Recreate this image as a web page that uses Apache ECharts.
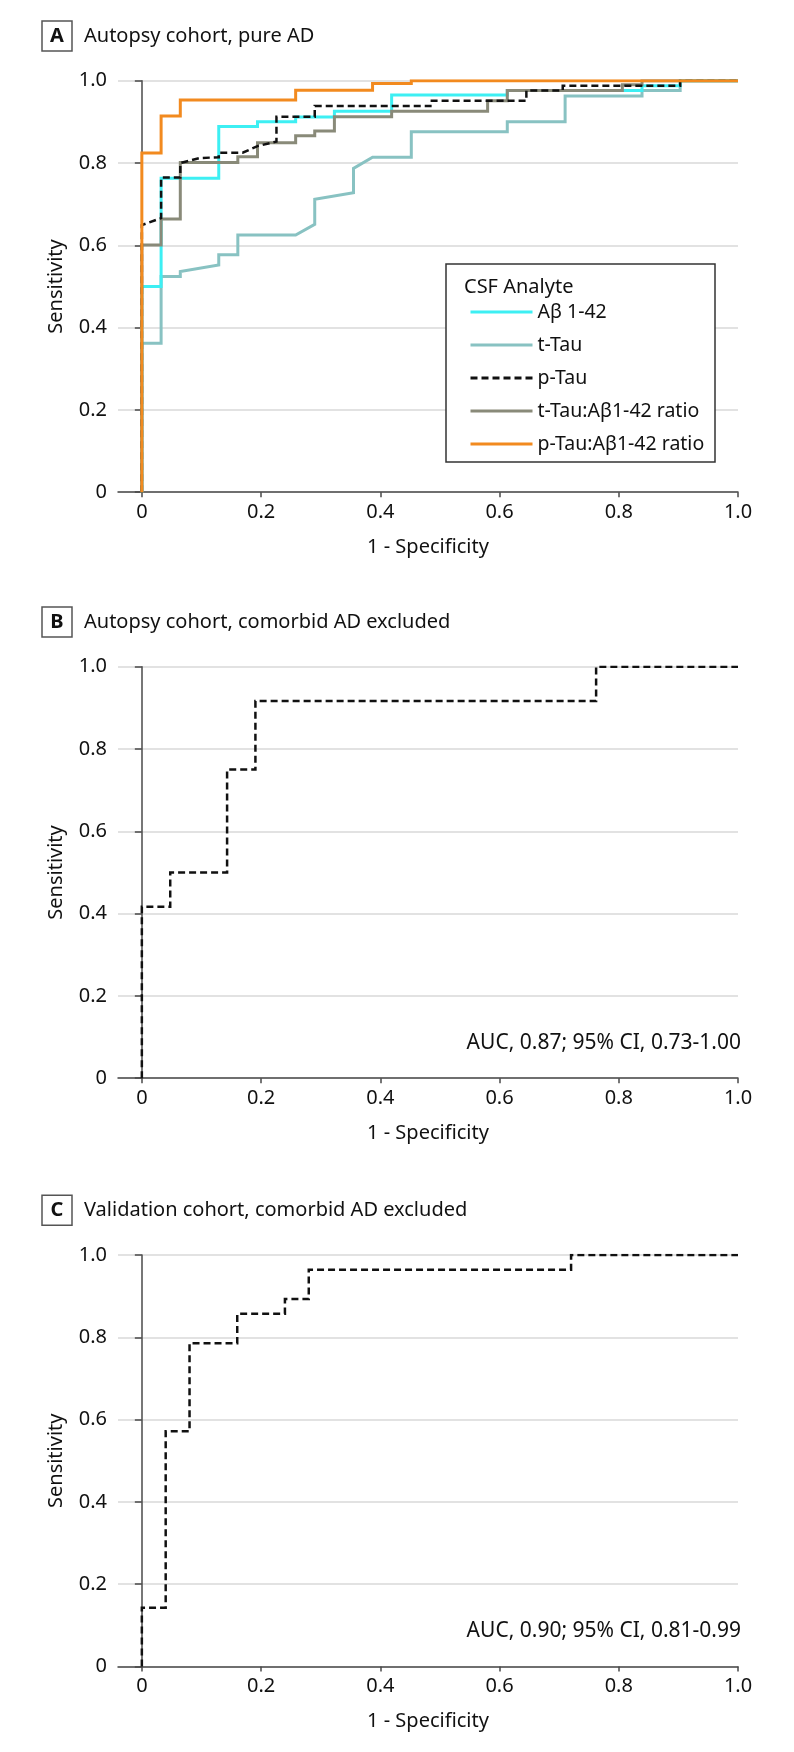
<!DOCTYPE html>
<html>
<head>
<meta charset="utf-8">
<script src="https://cdn.jsdelivr.net/npm/echarts@6/dist/echarts.min.js"></script>
<style>html,body{margin:0;padding:0;background:#fff}#c{width:794px;height:1752px}</style>
</head>
<body>
<div id="c"></div>
<script>
// ---------- data ----------
const panelTitles = ['Autopsy cohort, pure AD', 'Autopsy cohort, comorbid AD excluded', 'Validation cohort, comorbid AD excluded'];
const panelLetters = ['A', 'B', 'C'];
const xTickValues = [0, 0.2, 0.4, 0.6, 0.8, 1.0];
const seriesNames = ['Aβ 1-42', 't-Tau', 'p-Tau', 't-Tau:Aβ1-42 ratio', 'p-Tau:Aβ1-42 ratio'];

// Panel A (1 - specificity, sensitivity)
const abetaX = [0, 0, 0.0323, 0.0323, 0.129, 0.129, 0.194, 0.194, 0.258, 0.258, 0.323, 0.323, 0.419, 0.419, 0.613, 0.613, 0.839, 0.839, 0.903, 0.903, 1];
const abetaY = [0, 0.5, 0.5, 0.763, 0.763, 0.889, 0.889, 0.900, 0.900, 0.912, 0.912, 0.926, 0.926, 0.965, 0.965, 0.976, 0.976, 0.988, 0.988, 1, 1];

const tTauX = [0, 0, 0.0323, 0.0323, 0.0645, 0.0645, 0.129, 0.129, 0.161, 0.161, 0.258, 0.29, 0.29, 0.355, 0.355, 0.387, 0.452, 0.452, 0.613, 0.613, 0.71, 0.71, 0.839, 0.839, 0.903, 0.903, 1];
const tTauY = [0, 0.362, 0.362, 0.524, 0.524, 0.536, 0.552, 0.577, 0.577, 0.625, 0.625, 0.651, 0.712, 0.728, 0.787, 0.814, 0.814, 0.876, 0.876, 0.900, 0.900, 0.963, 0.963, 0.976, 0.976, 1, 1];

const pTauX = [0, 0, 0.0323, 0.0323, 0.0645, 0.0645, 0.097, 0.129, 0.129, 0.169, 0.194, 0.2258, 0.2258, 0.29, 0.29, 0.484, 0.484, 0.645, 0.645, 0.706, 0.706, 0.903, 0.903, 1];
const pTauY = [0, 0.649, 0.666, 0.765, 0.765, 0.800, 0.812, 0.814, 0.825, 0.825, 0.841, 0.852, 0.9125, 0.9125, 0.9385, 0.9385, 0.951, 0.951, 0.976, 0.976, 0.988, 0.988, 1, 1];

const tRatioX = [0, 0, 0.0323, 0.0323, 0.0645, 0.0645, 0.161, 0.161, 0.194, 0.194, 0.258, 0.258, 0.29, 0.29, 0.323, 0.323, 0.419, 0.419, 0.58, 0.58, 0.613, 0.613, 0.806, 0.806, 0.839, 0.839, 1];
const tRatioY = [0, 0.601, 0.601, 0.664, 0.664, 0.801, 0.801, 0.815, 0.815, 0.849, 0.849, 0.866, 0.866, 0.878, 0.878, 0.9125, 0.9125, 0.926, 0.926, 0.951, 0.951, 0.976, 0.976, 0.99, 0.99, 1, 1];

const pRatioX = [0, 0, 0.0323, 0.0323, 0.0645, 0.0645, 0.258, 0.258, 0.387, 0.387, 0.452, 0.452, 1];
const pRatioY = [0, 0.824, 0.824, 0.914, 0.914, 0.953, 0.953, 0.977, 0.977, 0.993, 0.993, 1, 1];

// Panel B (p-Tau)
const bX = [0, 0, 0.0476, 0.0476, 0.143, 0.143, 0.1905, 0.1905, 0.762, 0.762, 1];
const bY = [0, 0.4167, 0.4167, 0.5, 0.5, 0.75, 0.75, 0.9167, 0.9167, 1, 1];
const bAUC = 'AUC, 0.87; 95% CI, 0.73-1.00';

// Panel C (p-Tau)
const cX = [0, 0, 0.04, 0.04, 0.08, 0.08, 0.16, 0.16, 0.24, 0.24, 0.28, 0.28, 0.72, 0.72, 1];
const cY = [0, 0.1429, 0.1429, 0.5714, 0.5714, 0.7857, 0.7857, 0.8571, 0.8571, 0.8929, 0.8929, 0.9643, 0.9643, 1, 1];
const cAUC = 'AUC, 0.90; 95% CI, 0.81-0.99';

// ---------- chart ----------
const FONT = 'Noto Sans';
const FS = 20;
const TXT = '#111111';
const AXIS = '#4a4a4a';
const gridTops = [80.7, 666.7, 1255];
const gridH = 411.5;
const zip = (xs, ys) => xs.map((x, i) => [x, ys[i]]);

const grids = gridTops.map(t => ({ left: 118, right: 56, top: t, height: gridH, containLabel: false }));

const xAxes = gridTops.map((t, i) => ({
  gridIndex: i, type: 'value', min: -0.04, max: 1,
  axisLine: { show: true, onZero: false, lineStyle: { color: AXIS, width: 1.5 } },
  axisTick: { show: true, length: 5, customValues: xTickValues, lineStyle: { color: AXIS, width: 1.5 } },
  axisLabel: { customValues: xTickValues, fontSize: FS, fontFamily: FONT, color: TXT, margin: 10,
    formatter: v => v === 0 ? '0' : v.toFixed(1) },
  splitLine: { show: false },
  name: '1 - Specificity', nameLocation: 'middle', nameGap: 45,
  nameTextStyle: { fontSize: FS, fontFamily: FONT, color: TXT }
}));

const yAxes = gridTops.map((t, i) => ({
  gridIndex: i, type: 'value', min: 0, max: 1, interval: 0.2,
  axisLine: { show: true, lineStyle: { color: AXIS, width: 1.5 } },
  axisTick: { show: true, length: 7, lineStyle: { color: AXIS, width: 1.5 } },
  axisLabel: { fontSize: FS, fontFamily: FONT, color: TXT, margin: 11,
    formatter: v => v === 0 ? '0' : v.toFixed(1) },
  splitLine: { show: true, lineStyle: { color: '#d8d8d8', width: 1.5 } },
  name: 'Sensitivity', nameLocation: 'middle', nameGap: 52, nameRotate: 90,
  nameTextStyle: { fontSize: FS, fontFamily: FONT, color: TXT }
}));

const colors = { abeta: '#3DEFF3', tTau: '#88C2C2', pTau: '#111111', tRatio: '#898A79', pRatio: '#F28A1F' };
function lineSeries(name, data, color, idx, dashed, z) {
  return {
    type: 'line', name, data, xAxisIndex: idx, yAxisIndex: idx,
    symbol: 'none', showSymbol: false, animation: false, z,
    lineStyle: { color, width: dashed ? 2.5 : 3, type: dashed ? [7, 4] : 'solid', cap: 'butt', join: 'miter' },
    itemStyle: { color }
  };
}

const series = [
  lineSeries(seriesNames[1], zip(tTauX, tTauY), colors.tTau, 0, false, 2),
  lineSeries(seriesNames[0], zip(abetaX, abetaY), colors.abeta, 0, false, 3),
  lineSeries(seriesNames[3], zip(tRatioX, tRatioY), colors.tRatio, 0, false, 4),
  lineSeries(seriesNames[2], zip(pTauX, pTauY), colors.pTau, 0, true, 5),
  lineSeries(seriesNames[4], zip(pRatioX, pRatioY), colors.pRatio, 0, false, 6),
  lineSeries('p-Tau (B)', zip(bX, bY), colors.pTau, 1, true, 5),
  lineSeries('p-Tau (C)', zip(cX, cY), colors.pTau, 2, true, 5)
];

const graphic = [];
gridTops.forEach((t, i) => {
  const boxTop = t - 59.7;
  graphic.push({ type: 'rect', shape: { x: 42, y: boxTop, width: 30, height: 30 },
    style: { fill: '#fff', stroke: '#555', lineWidth: 1.5 } });
  graphic.push({ type: 'text', style: { x: 57, y: boxTop + 15, text: panelLetters[i], font: 'bold 20px "Noto Sans"', fill: TXT, textAlign: 'center', textVerticalAlign: 'middle' } });
  graphic.push({ type: 'text', style: { x: 84, y: boxTop + 15, text: panelTitles[i], font: '20px "Noto Sans"', fill: TXT, textAlign: 'left', textVerticalAlign: 'middle' } });
});
// legend box and heading
graphic.push({ type: 'rect', shape: { x: 446, y: 264, width: 269, height: 198 },
  style: { fill: '#fff', stroke: '#333', lineWidth: 1.5 }, z: 1 });
graphic.push({ type: 'text', style: { x: 464, y: 287, text: 'CSF Analyte', font: '20px "Noto Sans"', fill: TXT, textAlign: 'left', textVerticalAlign: 'middle' }, z: 2 });
// AUC annotations
graphic.push({ type: 'text', style: { x: 741, y: 1043, text: bAUC, font: '21px "Noto Sans"', fill: TXT, textAlign: 'right', textVerticalAlign: 'middle' } });
graphic.push({ type: 'text', style: { x: 741, y: 1631, text: cAUC, font: '21px "Noto Sans"', fill: TXT, textAlign: 'right', textVerticalAlign: 'middle' } });

const chart = echarts.init(document.getElementById('c'), null, { renderer: 'canvas' });
chart.setOption({
  backgroundColor: '#fff',
  animation: false,
  grid: grids,
  xAxis: xAxes,
  yAxis: yAxes,
  legend: {
    data: seriesNames, orient: 'vertical', left: 464, top: 297,
    itemWidth: 62, itemHeight: 14, itemGap: 13, selectedMode: false, z: 10,
    itemStyle: { opacity: 0 },
    lineStyle: { width: 3 },
    textStyle: { fontSize: 19.5, fontFamily: FONT, color: TXT }
  },
  graphic,
  series
});
</script>
</body>
</html>
